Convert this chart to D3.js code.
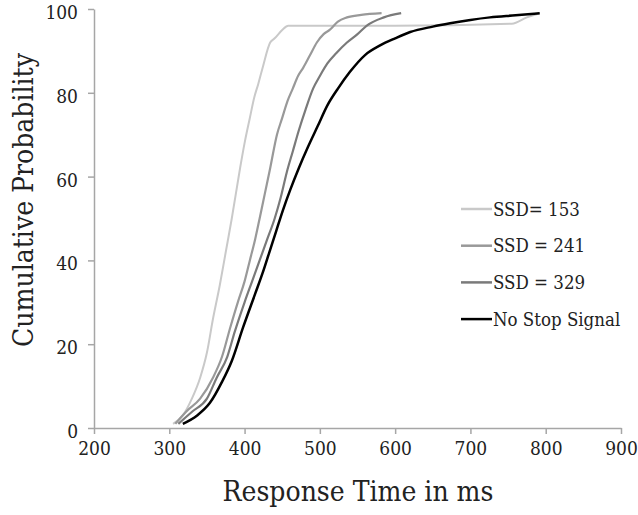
<!DOCTYPE html>
<html lang="en">

<head>
	<meta charset="utf-8">
	<title>Cumulative RT distributions</title>
	<style>
		body {
			margin: 0;
			background: #fff;
		}

		svg {
			display: block;
		}

		svg text {
			font-family: "DejaVu Serif Condensed", "DejaVu Serif", serif;
			font-stretch: condensed;
			fill: #222;
		}

		.axis path,
		.axis line {
			stroke: #a6a6a6;
			stroke-width: 1.5;
		}

		.axis text {
			font-size: 19px;
		}

		.curve {
			fill: none;
			stroke-linejoin: round;
		}
	</style>
</head>

<body>
	<svg width="638" height="515"></svg>

	<script src="https://d3js.org/d3.v7.min.js"></script>
	<script>
		// [response time in ms, cumulative probability %]
		var ssd153 = [[305, 1], [318, 3], [330, 7], [341, 12], [350, 18], [358, 26], [367, 34], [375, 42], [383, 50], [394, 62], [400, 68], [407, 74], [413, 79], [418, 82], [424, 86], [434, 92], [440, 93], [450, 95], [458, 96], [600, 96], [755, 96.5], [775, 98], [792, 99]];
		var ssd241 = [[308, 1], [323, 4], [341, 7], [358, 12], [370, 17], [381, 24], [391, 30], [400, 35], [407, 40], [414, 45], [420, 50], [427, 56], [434, 62], [443, 70], [450, 74], [457, 78], [464, 81], [471, 84], [478, 86], [487, 89], [496, 92], [505, 94], [513, 95], [524, 97], [536, 98], [555, 98.6], [582, 99]];
		var ssd329 = [[312, 1], [331, 4], [350, 7], [363, 12], [377, 17], [387, 23], [400, 30], [410, 35], [420, 40], [430, 45], [440, 50], [448, 55], [456, 61], [464, 66], [472, 71], [481, 76], [491, 81], [500, 84], [510, 87], [522, 89.5], [536, 92], [550, 94], [562, 96], [585, 98], [608, 99]];
		var noStop = [[318, 1], [337, 3], [354, 6], [370, 11], [383, 16], [398, 24], [414, 32], [424, 37], [433, 42], [442, 47], [451, 52], [461, 57], [472, 62], [484, 67], [497, 72], [510, 77], [524, 81], [540, 85], [560, 89], [580, 91.3], [600, 93], [620, 94.5], [650, 95.8], [673, 96.6], [700, 97.4], [726, 98], [760, 98.5], [792, 99]];

		var seriesNames = ["SSD= 153", "SSD = 241", "SSD = 329", "No Stop Signal"];
		var xTicks = [200, 300, 400, 500, 600, 700, 800, 900];
		var yTicks = [0, 20, 40, 60, 80, 100];

		var series = [
			{ name: seriesNames[0], values: ssd153, color: "#c9c9c9", width: 2 },
			{ name: seriesNames[1], values: ssd241, color: "#999999", width: 2.2 },
			{ name: seriesNames[2], values: ssd329, color: "#7a7a7a", width: 2.2 },
			{ name: seriesNames[3], values: noStop, color: "#000000", width: 2.5 }
		];

		var margin = { top: 9, left: 94 };
		var w = 527, h = 419;

		var svg = d3.select("svg");
		var g = svg.append("g")
			.attr("transform", "translate(" + margin.left + "," + margin.top + ")");

		var x = d3.scaleLinear().domain([200, 900]).range([0, w]);
		var y = d3.scaleLinear().domain([0, 100]).range([h, 0]);

		g.append("g")
			.attr("class", "axis")
			.attr("transform", "translate(0," + h + ")")
			.call(d3.axisBottom(x).tickValues(xTicks).tickSizeInner(6).tickSizeOuter(0).tickPadding(8))
			.attr("font-family", null);

		g.append("g")
			.attr("class", "axis")
			.call(d3.axisLeft(y).tickValues(yTicks).tickSizeInner(6).tickSizeOuter(0).tickPadding(10))
			.attr("font-family", null)
			.selectAll(".tick text")
			.attr("dy", "0.5em"); // labels sit a little below their ticks, like the original

		var line = d3.line()
			.x(function(d) { return x(d[0]); })
			.y(function(d) { return y(d[1]); })
			.curve(d3.curveMonotoneX);

		g.selectAll(".curve").data(series)
			.enter().append("path")
			.attr("class", "curve")
			.attr("d", function(d) { return line(d.values); })
			.style("stroke", function(d) { return d.color; })
			.style("stroke-width", function(d) { return d.width; });

		// legend
		var legend = svg.append("g").attr("transform", "translate(461,209)");
		var items = legend.selectAll(".legend-item").data(series)
			.enter().append("g")
			.attr("class", "legend-item")
			.attr("transform", function(d, i) { return "translate(0," + (i * 36.7) + ")"; });

		items.append("line")
			.attr("x1", 0).attr("x2", 31)
			.style("stroke", function(d) { return d.color; })
			.style("stroke-width", 2.5);

		items.append("text")
			.attr("x", 32)
			.attr("y", 6.5)
			.style("font-size", "18.5px")
			.text(function(d) { return d.name; });

		// axis titles
		svg.append("text")
			.attr("x", 358)
			.attr("y", 501)
			.attr("text-anchor", "middle")
			.style("font-size", "28px")
			.text("Response Time in ms");

		svg.append("text")
			.attr("transform", "translate(33,200) rotate(-90)")
			.attr("text-anchor", "middle")
			.style("font-size", "28px")
			.text("Cumulative Probability");
	</script>
</body>

</html>
